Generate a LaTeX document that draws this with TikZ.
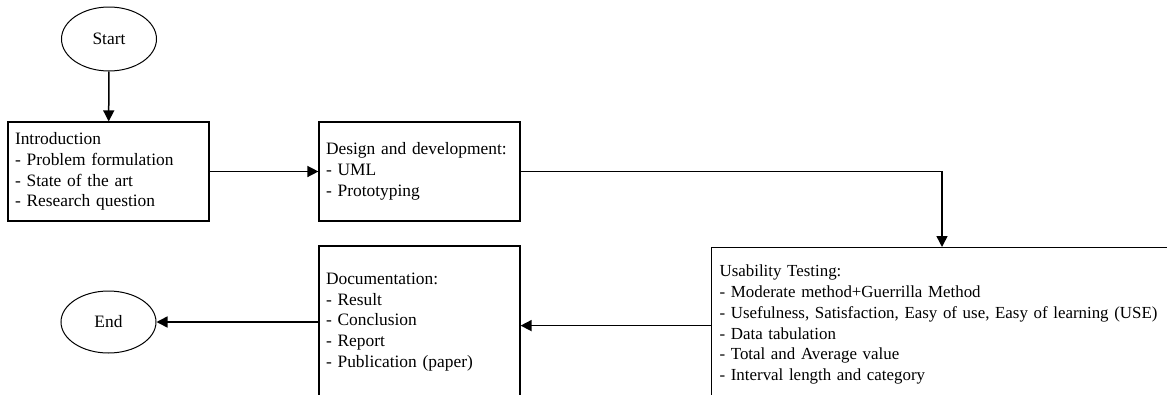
\documentclass[tikz,border=0pt]{standalone}
\usepackage{fontspec}
\setmainfont{Liberation Serif}
\usetikzlibrary{shapes.geometric,arrows.meta}
\tikzset{
  every node/.style={font=\fontsize{17.4}{20.8}\selectfont},
  term/.style={draw, ellipse, line width=1pt, inner sep=0pt},
  procbox/.style={draw, rectangle, line width=1.2pt, align=left, inner xsep=7pt, inner ysep=0pt},
  conn/.style={line width=1.5pt, -{Triangle[length=11pt,width=11pt]}}
}
\begin{document}
\begin{tikzpicture}[x=1pt,y=-1pt]
\useasboundingbox (0,0) rectangle (1167,394);
\clip (0,0) rectangle (1167,394);
\node[term, minimum width=95pt, minimum height=64pt] (start) at (109,39) {Start};
\node[term, minimum width=95pt, minimum height=62pt] (end) at (108.5,322) {End};
\node[procbox, text width=187pt, minimum height=99pt] (intro) at (108.5,171.5) {Introduction\\- Problem formulation\\- State of the art\\- Research question};
\node[procbox, text width=187pt, minimum height=99pt] (design) at (419.5,171.5) {Design and development:\\- UML\\- Prototyping};
\node[procbox, text width=187pt, minimum height=152pt] (doc) at (419.5,322) {Documentation:\\- Result\\- Conclusion\\- Report\\- Publication (paper)};
\node[procbox, font=\fontsize{16.9}{20.8}\selectfont, inner xsep=8pt, text width=470pt, minimum height=154pt, anchor=north west] (usab) at (711,247) {Usability Testing:\\- Moderate method+Guerrilla Method\\- Usefulness, Satisfaction, Easy of use, Easy of learning (USE)\\- Data tabulation\\- Total and Average value\\- Interval length and category};
\draw[conn] (start) -- (intro);
\draw[conn] (intro) -- (design);
\draw[conn] (design.east) -| ([xshift=231pt]usab.north west);
\draw[conn] ([yshift=-1pt]usab.west) -- ([yshift=-1pt]usab.west -| doc.east);
\draw[conn] (doc) -- (end);
\end{tikzpicture}
\end{document}
